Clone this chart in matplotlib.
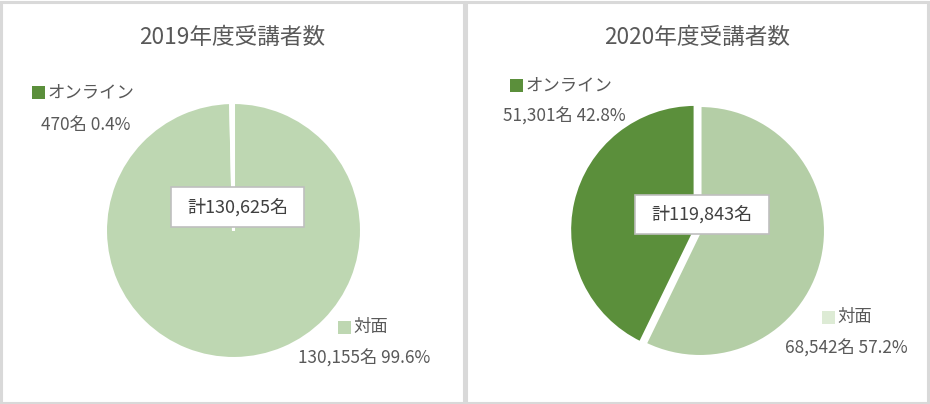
import matplotlib
matplotlib.use("Agg")
import matplotlib.pyplot as plt
from matplotlib.patches import Rectangle

plt.rcParams['font.family'] = ['Noto Sans CJK JP', 'DejaVu Sans']

# data
years = ["2019", "2020"]
categories = ["対面", "オンライン"]
taimen = [130155, 68542]
online = [470, 51301]
taimen_pct = ["99.6%", "57.2%"]
online_pct = ["0.4%", "42.8%"]
totals = [130625, 119843]

GRAY = "#595959"
DARK = "#5B8F3B"
LIGHT = ["#BED7B2", "#B4CEA6"]
LIGHT_KEY = ["#BED7B2", "#DDEBD5"]

W, H = 930, 404
fig = plt.figure(figsize=(W / 100, H / 100), dpi=100)
ax = fig.add_axes([0, 0, 1, 1])
ax.set_xlim(0, W)
ax.set_ylim(0, H)


def py(y):
    # pixel row (from top) to data y
    return H - y


# per panel layout (pixels, from top-left of figure)
centers = [(233.5, 230.5), (700, 231)]
radii = [128, 125.5]
explode_px = [5, 5]
title_pos = [(232, 37), (697, 37)]
online_key = [(32, 92), (510, 85)]
online_val = [(41, 125), (503, 117)]
taimen_key = [(338, 327), (822, 317)]
taimen_val = [(298, 359), (785, 349)]
box = [(171, 187, 304, 227), (635, 195, 769, 234)]

for i in range(2):
    cx, cy = centers[i]
    ax.pie([taimen[i], online[i]], colors=[LIGHT[i], DARK],
           startangle=90, counterclock=False,
           center=(cx, py(cy)), radius=radii[i],
           explode=[0, explode_px[i]],
           wedgeprops=dict(edgecolor="white", linewidth=2.2))

    ax.text(title_pos[i][0], py(title_pos[i][1]), f"{years[i]}年度受講者数",
            ha="center", va="center", fontsize=16.3, color=GRAY)

    # online label
    kx, ky = online_key[i]
    ax.add_patch(Rectangle((kx, py(ky) - 6.5), 13, 13, color=DARK, lw=0))
    ax.text(kx + 15, py(ky), categories[1], ha="left", va="center",
            fontsize=12.5, color=GRAY)
    ax.text(online_val[i][0], py(online_val[i][1]),
            f"{online[i]:,}名 {online_pct[i]}", ha="left", va="center",
            fontsize=12.4, color=GRAY)

    # taimen label
    kx, ky = taimen_key[i]
    ax.add_patch(Rectangle((kx, py(ky) - 6.5), 13, 13, color=LIGHT_KEY[i], lw=0))
    ax.text(kx + 15, py(ky), categories[0], ha="left", va="center",
            fontsize=12.5, color=GRAY)
    ax.text(taimen_val[i][0], py(taimen_val[i][1]),
            f"{taimen[i]:,}名 {taimen_pct[i]}", ha="left", va="center",
            fontsize=12.4, color=GRAY)

    # total box
    x0, y0, x1, y1 = box[i]
    ax.add_patch(Rectangle((x0, py(y1)), x1 - x0, y1 - y0, facecolor="white",
                           edgecolor="#BFBFBF", lw=1.2, zorder=5))
    ax.text((x0 + x1) / 2, py((y0 + y1) / 2), f"計{totals[i]:,}名",
            ha="center", va="center", fontsize=13, color="#404040", zorder=6)

ax.set_xlim(0, W)
ax.set_ylim(0, H)
ax.set_aspect("auto")
ax.axis("off")

# panel borders
border = "#D9D9D9"
for x0, x1 in [(1, 464), (466, 928)]:
    ax.add_patch(Rectangle((x0, 1.5), x1 - x0, H - 3, fill=False,
                           edgecolor=border, lw=2.2, zorder=10))

fig.savefig("out.png", dpi=100)
